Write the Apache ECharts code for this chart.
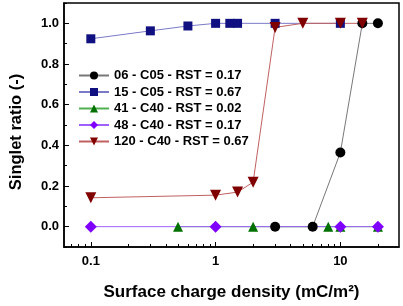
<!DOCTYPE html>
<html>
<head>
<meta charset="utf-8">
<script src="https://cdn.jsdelivr.net/npm/echarts@6/dist/echarts.min.js"></script>
<style>
  html, body { margin: 0; padding: 0; background: #fff; }
  #chart { width: 403px; height: 306px; }
</style>
</head>
<body>
<div id="chart"></div>
<script>
// values: [surface charge density, singlet ratio]
const s06 = [[3, 0], [6, 0], [10, 0.365], [15, 1.0], [20, 1.0]]
const s15 = [[0.1, 0.924], [0.3, 0.963], [0.6, 0.987], [1, 1.0], [1.3, 1.0], [1.5, 1.0], [3, 1.0], [10, 1.0]]
const s41 = [[0.5, 0], [2, 0], [8, 0], [10, 0], [20, 0]]
const s48 = [[0.1, 0], [1, 0], [10, 0], [20, 0]]
const s120 = [[0.1, 0.142], [1, 0.155], [1.5, 0.17], [2, 0.219], [3, 0.98], [5, 1.0], [10, 1.0], [15, 1.0]]

const names = ['06 - C05 - RST = 0.17', '15 - C05 - RST = 0.67', '41 - C40 - RST = 0.02', '48 - C40 - RST = 0.17', '120 - C40 - RST = 0.67']

const xMajor = [0.1, 1, 10]
const xMinor = [0.07, 0.08, 0.09, 0.2, 0.3, 0.4, 0.5, 0.6, 0.7, 0.8, 0.9, 2, 3, 4, 5, 6, 7, 8, 9, 20]
const yMajor = [0, 0.2, 0.4, 0.6, 0.8, 1.0]
const yMinor = [-0.1, 0.1, 0.3, 0.5, 0.7, 0.9, 1.1]

const lg = v => Math.log10(v)
const toLog = arr => arr.map(p => [lg(p[0]), p[1]])

const xMin = -1.215
const xMax = 1.47

const chart = echarts.init(document.getElementById('chart'))

const font = 'Liberation Sans, Arial, sans-serif'

const mkSeries = (i, data, symbol, color, lineColor, size) => ({
  name: names[i],
  type: 'line',
  data: toLog(data),
  symbol: symbol,
  symbolSize: size,
  itemStyle: { color: color },
  lineStyle: { color: lineColor, width: 1 },
  xAxisIndex: 0,
  yAxisIndex: 0
})

chart.setOption({
  animation: false,
  grid: {
    left: 62, right: 4, top: 3, bottom: 54,
    show: true, borderColor: '#000', borderWidth: 1.5
  },
  legend: {
    left: 78, top: 69,
    padding: 0,
    orient: 'vertical',
    itemGap: 3.5,
    itemWidth: 30,
    itemHeight: 10,
    textStyle: { fontFamily: font, fontWeight: 'bold', fontSize: 13, color: '#000', width: 128, align: 'right' },
    data: names
  },
  xAxis: [
    {
      type: 'value', min: xMin, max: xMax,
      name: 'Surface charge density (mC/m²)',
      nameLocation: 'middle', nameGap: 37,
      nameTextStyle: { fontFamily: font, fontWeight: 'bold', fontSize: 17, color: '#000' },
      axisLine: { show: true, onZero: false, lineStyle: { color: '#000', width: 1.5 } },
      axisTick: { show: true, inside: true, length: 5, customValues: xMajor.map(lg), lineStyle: { color: '#000' } },
      axisLabel: {
        customValues: xMajor.map(lg), margin: 8,
        fontFamily: font, fontWeight: 'bold', fontSize: 13, color: '#000',
        formatter: v => String(Math.round(Math.pow(10, v) * 10) / 10)
      },
      splitLine: { show: false }
    },
    {
      type: 'value', min: xMin, max: xMax, position: 'bottom',
      axisLine: { show: false, onZero: false },
      axisTick: { show: true, inside: true, length: 3, customValues: xMinor.map(lg), lineStyle: { color: '#000' } },
      axisLabel: { show: false },
      splitLine: { show: false }
    }
  ],
  yAxis: [
    {
      type: 'value', min: -0.1, max: 1.1,
      name: 'Singlet ratio (-)',
      nameLocation: 'middle', nameGap: 39,
      nameTextStyle: { fontFamily: font, fontWeight: 'bold', fontSize: 16.5, color: '#000', padding: [0, 14, 0, 0] },
      axisLine: { show: true, onZero: false, lineStyle: { color: '#000', width: 1.5 } },
      axisTick: { show: true, inside: true, length: 5, customValues: yMajor, lineStyle: { color: '#000' } },
      axisLabel: {
        customValues: yMajor, margin: 5,
        fontFamily: font, fontWeight: 'bold', fontSize: 13, color: '#000',
        formatter: v => v.toFixed(1)
      },
      splitLine: { show: false }
    },
    {
      type: 'value', min: -0.1, max: 1.1, position: 'left',
      axisLine: { show: false, onZero: false },
      axisTick: { show: true, inside: true, length: 3, customValues: yMinor, lineStyle: { color: '#000' } },
      axisLabel: { show: false },
      splitLine: { show: false }
    }
  ],
  series: [
    mkSeries(0, s06, 'circle', '#000000', '#777777', 10),
    mkSeries(1, s15, 'rect', '#101080', '#7a7ac8', 9),
    mkSeries(2, s41, 'triangle', '#007000', '#50b050', 10),
    mkSeries(3, s48, 'diamond', '#8000ff', '#a060ff', 12),
    mkSeries(4, s120, 'path://M0,0 L10,0 L5,9 Z', '#800000', '#c06060', 11)
  ]
})
</script>
</body>
</html>
